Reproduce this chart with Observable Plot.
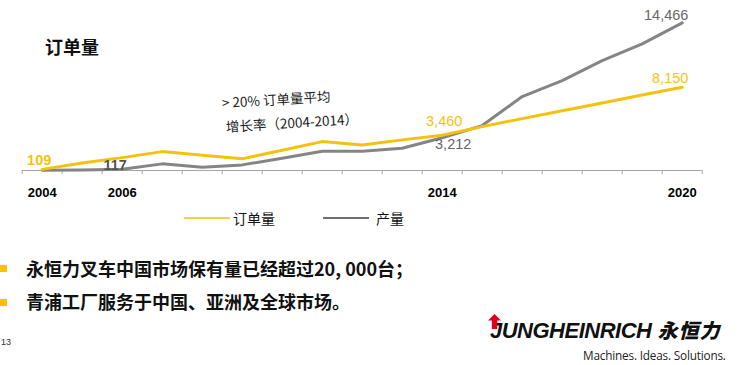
<!DOCTYPE html>
<html>
<head>
<meta charset="utf-8">
<script src="https://cdn.jsdelivr.net/npm/d3@7"></script>
<script src="https://cdn.jsdelivr.net/npm/@observablehq/plot@0.6"></script>
<style>
  html, body { margin: 0; padding: 0; background: #fff; }
  #page { position: relative; width: 737px; height: 365px; overflow: hidden; font-family: "Liberation Sans", Arial, sans-serif; }
  #chart { position: absolute; left: 0; top: 0; }
  .abs { position: absolute; white-space: nowrap; }
  #title { left: 45px; top: 33px; font: bold 18px "Noto Sans CJK SC", sans-serif; color: #111; }
  .note { font: 13.5px "Noto Sans CJK SC", sans-serif; color: #222; transform-origin: left center; transform: rotate(-3.5deg); }
  .leg { top: 208px; font: 14px "Noto Sans CJK SC", sans-serif; color: #111; display: flex; align-items: center; }
  .leg span.sw { display: inline-block; width: 46px; height: 2.5px; margin-right: 3px; }
  .bullet { left: 26px; font: 600 18px "Noto Sans CJK SC", sans-serif; color: #111; }
  .sq { position: absolute; left: 0; width: 7px; height: 7px; background: #FFC000; }
  #pg { left: 1px; top: 337px; font-size: 9px; color: #333; }
  #logo { left: 488px; top: 315px; font: italic 900 22px "Liberation Sans", Arial, sans-serif; color: #111; letter-spacing: -0.5px; }
  #logo .cn { font: 900 20px "Noto Sans CJK SC", sans-serif; font-style: italic; margin-left: 6px; letter-spacing: 1px; }
  #slogan { left: 583px; top: 347px; font: 11.8px "Open Sans", "Liberation Sans", sans-serif; color: #222; letter-spacing: -0.2px; }
</style>
</head>
<body>
<div id="page">
  <div id="chart"></div>
  <div id="title" class="abs">订单量</div>
  <div class="abs note" style="left:222px; top:92px;">&gt; 20% 订单量平均</div>
  <div class="abs note" style="left:226px; top:116px;">增长率（2004-2014）</div>
  <div class="abs leg" style="left:184px;"><span class="sw" style="background:#F5CF45"></span>订单量</div>
  <div class="abs leg" style="left:323px;"><span class="sw" style="background:#707070;height:2px;margin-right:7px"></span>产量</div>
  <div class="sq" style="top:265px"></div>
  <div class="abs bullet" style="top:255px">永恒力叉车中国市场保有量已经超过20, 000台；</div>
  <div class="sq" style="top:299px"></div>
  <div class="abs bullet" style="top:288px">青浦工厂服务于中国、亚洲及全球市场。</div>
  <div id="pg" class="abs">13</div>
  <div id="logo" class="abs"><svg width="13" height="15" style="position:absolute;left:0;top:-1px" viewBox="0 0 12 14"><polygon points="6,0 12,6 8.5,6 8.5,14 3.5,14 3.5,6 0,6" fill="#E3001B"/></svg><span style="margin-left:2px">JUNGHEINRICH</span><span class="cn">永恒力</span></div>
  <div id="slogan" class="abs">Machines. Ideas. Solutions.</div>
</div>
<script>
const years = [2004, 2005, 2006, 2007, 2008, 2009, 2010, 2011, 2012, 2013, 2014, 2015, 2016, 2017, 2018, 2019, 2020];
const orders = [109, 730, 1260, 1850, 1490, 1140, 1990, 2830, 2500, 3000, 3460, 4300, 5080, 5850, 6620, 7390, 8150];
const production = [30, 50, 117, 650, 320, 550, 1200, 1880, 1880, 2180, 3212, 4400, 7240, 8810, 10770, 12400, 14466];
const tickLabels = [2004, 2006, 2014, 2020];

const yellow = "#F4C20D";
const gray = "#858585";
const fmt = d3.format(",");
const boundaries = years.map(y => y - 0.5).concat([years[years.length - 1] + 0.5]);
const ordersData = years.map((y, i) => ({year: y, value: orders[i]}));
const prodData = years.map((y, i) => ({year: y, value: production[i]}));

function label(data, i, opts) {
  return Plot.text([data[i]], {x: "year", y: "value", text: d => fmt(d.value), fontSize: 14.5, ...opts});
}

const chart = Plot.plot({
  width: 737,
  height: 205,
  marginLeft: 21.7,
  marginRight: 35.3,
  marginTop: 22.3,
  marginBottom: 35,
  style: {fontFamily: "'Liberation Sans', Arial, sans-serif", background: "transparent", overflow: "visible"},
  x: {domain: [boundaries[0], boundaries[boundaries.length - 1]], label: null},
  y: {domain: [0, 14466], axis: null},
  marks: [
    Plot.axisX({ticks: boundaries, tickSize: 4, tickFormat: () => "", stroke: "#a6a6a6", label: null}),
    Plot.axisX({ticks: tickLabels, tickSize: 0, tickPadding: 17, tickFormat: d => String(d), fontSize: 13, fontWeight: "bold", fill: "#000", label: null}),
    Plot.ruleY([0], {stroke: "#a6a6a6", strokeWidth: 1}),
    Plot.line(prodData, {x: "year", y: "value", stroke: gray, strokeWidth: 3, strokeLinejoin: "round"}),
    Plot.line(ordersData, {x: "year", y: "value", stroke: yellow, strokeWidth: 3, strokeLinejoin: "round"}),
    label(ordersData, 0, {fill: yellow, fontWeight: "bold", dx: -3, dy: -9}),
    label(prodData, 2, {fill: "#555", fontWeight: "bold", dx: -7, dy: -4}),
    label(ordersData, 10, {fill: yellow, dx: 2, dy: -14}),
    label(prodData, 10, {fill: "#666", dx: 11, dy: 7}),
    label(ordersData, 16, {fill: yellow, dx: -12, dy: -9}),
    label(prodData, 16, {fill: "#666", dx: -16, dy: -7})
  ]
});
document.getElementById("chart").appendChild(chart);
</script>
</body>
</html>
